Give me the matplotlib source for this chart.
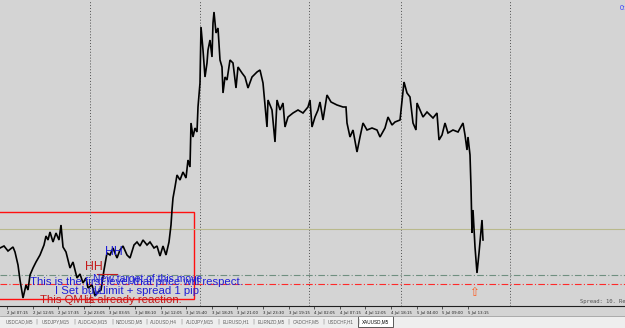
import matplotlib
matplotlib.use('Agg')
import matplotlib.pyplot as plt
from matplotlib.patches import Rectangle

# XAUUSD,M5 close path (bar index, price)
bars = [0, 4, 8, 13, 15, 18, 20, 23, 26, 28, 30, 33, 36, 40, 44, 46, 48, 50, 53, 56,
        59, 61, 63, 66, 70, 73, 77, 80, 83, 86, 88, 92, 95, 98, 101, 104, 107, 110, 113, 117,
        120, 123, 127, 130, 134, 137, 140, 143, 147, 150, 154, 157, 160, 163, 166, 169, 171, 172, 173, 175,
        177, 180, 183, 186, 188, 190, 191, 193, 195, 197, 198, 200, 201, 203, 205, 207, 208, 210, 212, 213,
        214, 216, 218, 220, 222, 223, 225, 227, 230, 233, 236, 238, 242, 245, 248, 252, 257, 260, 263, 267,
        268, 272, 275, 277, 280, 283, 285, 288, 293, 298, 303, 308, 310, 312, 315, 318, 320, 323, 327, 331,
        333, 337, 343, 346, 347, 350, 353, 357, 360, 363, 367, 372, 377, 380, 385, 388, 392, 395, 400, 404,
        407, 410, 413, 416, 417, 420, 423, 427, 430, 433, 437, 439, 442, 445, 448, 453, 458, 463, 465, 467,
        468, 470, 471, 472, 473, 475, 477, 479, 482, 483]
prices = [1242.60, 1242.70, 1242.45, 1242.65, 1242.40, 1241.75, 1241.00, 1240.10, 1240.75, 1240.50,
          1241.25, 1241.60, 1241.90, 1242.25, 1242.75, 1243.20, 1243.00, 1243.40, 1242.90, 1243.35,
          1243.00, 1243.75, 1242.65, 1242.40, 1241.60, 1241.90, 1241.10, 1241.30, 1240.85, 1241.10,
          1240.60, 1240.75, 1240.20, 1240.40, 1240.50, 1241.50, 1242.35, 1242.25, 1242.60, 1242.10,
          1242.50, 1242.70, 1242.25, 1242.10, 1242.75, 1242.90, 1242.70, 1243.00, 1242.75, 1242.90,
          1242.60, 1242.70, 1242.20, 1242.70, 1242.25, 1242.90, 1243.75, 1244.50, 1245.10, 1245.65,
          1246.25, 1246.00, 1246.40, 1246.10, 1247.00, 1246.65, 1248.85, 1248.15, 1248.60, 1248.40,
          1249.65, 1250.85, 1253.65, 1252.50, 1251.15, 1251.85, 1252.50, 1253.00, 1252.15, 1253.85,
          1254.40, 1253.35, 1253.60, 1252.00, 1251.65, 1250.35, 1251.15, 1251.00, 1252.00, 1251.85,
          1250.60, 1251.65, 1251.35, 1251.15, 1250.60, 1251.15, 1251.40, 1251.50, 1250.85, 1248.65,
          1250.00, 1249.50, 1247.90, 1250.00, 1249.50, 1249.85, 1248.65, 1249.15, 1249.35, 1249.50,
          1249.35, 1249.65, 1250.00, 1248.65, 1249.15, 1249.50, 1249.90, 1249.00, 1250.25, 1249.90,
          1249.85, 1249.75, 1249.65, 1249.65, 1248.85, 1248.15, 1248.50, 1247.40, 1248.15, 1248.85,
          1248.50, 1248.60, 1248.50, 1248.15, 1248.60, 1249.15, 1248.75, 1248.90, 1249.00, 1250.90,
          1250.35, 1250.15, 1248.85, 1248.50, 1249.85, 1249.50, 1249.15, 1249.40, 1249.25, 1249.10,
          1249.35, 1248.00, 1248.25, 1248.85, 1248.35, 1248.50, 1248.40, 1248.85, 1248.25, 1247.50,
          1248.15, 1247.25, 1245.65, 1243.35, 1244.50, 1242.65, 1241.35, 1242.35, 1244.00, 1243.00]

separators = [90, 200, 309, 401, 510]
olive_level = 1243.55
grey_level = 1241.25
red_level = 1240.80
box_left, box_right = -2, 194
box_low, box_high = 1240.05, 1244.40

tick_bars = [7, 33, 58, 84, 109, 135, 161, 186, 212, 237, 263, 289, 314, 340, 365, 391, 417, 442, 468]
tick_labels = ['2 Jul 07:15', '2 Jul 12:55', '2 Jul 17:35', '2 Jul 23:05', '3 Jul 03:55',
               '3 Jul 08:10', '3 Jul 12:05', '3 Jul 15:40', '3 Jul 18:25', '3 Jul 21:00',
               '3 Jul 23:30', '3 Jul 19:15', '4 Jul 02:05', '4 Jul 07:15', '4 Jul 12:05',
               '4 Jul 18:15', '5 Jul 04:00', '5 Jul 09:00', '5 Jul 13:15']
tabs = ['USDCAD,M5', 'USDJPY,M15', 'AUDCAD,M15', 'NZDUSD,M5', 'AUDUSD,H4', 'AUDJPY,M15',
        'EURUSD,H1', 'EURNZD,M5', 'CADCHF,M5', 'USDCHF,H1']
active_tab = 'XAUUSD,M5'

BG = '#d4d4d4'
BLUE = '#1f1fd6'
DRED = '#c41a1a'
FONT = 'Liberation Sans'

fig = plt.figure(figsize=(6.25, 3.28), dpi=100)
fig.patch.set_facecolor(BG)
ax = fig.add_axes([0, 22 / 328, 1, 306 / 328])
ax.set_facecolor(BG)
ax.set_xlim(0, 625)
ax.set_ylim(1239.70, 1255.00)
for s in ['top', 'left', 'right']:
    ax.spines[s].set_visible(False)
ax.spines['bottom'].set_color('#202020')
ax.spines['bottom'].set_linewidth(0.8)
ax.set_yticks([])
ax.set_xticks(tick_bars)
ax.set_xticklabels(tick_labels, fontsize=2.8, color='#202020', ha='left')
ax.tick_params(axis='x', length=2, width=0.5, pad=1.5, color='#202020')

for b in separators:
    ax.axvline(b, color='#505050', lw=0.7, ls=(0, (1, 2)))
ax.axhline(olive_level, color='#b9b98c', lw=0.8)
ax.axhline(grey_level, color='#6f8f80', lw=0.8, ls=(0, (6, 2, 1, 2)))
ax.axhline(red_level, color='#ff2a2a', lw=0.8, ls=(0, (6, 2, 1, 2)))

ax.plot(bars, prices, color='black', lw=1.2, solid_joinstyle='miter')

ax.add_patch(Rectangle((box_left, box_low), box_right - box_left, box_high - box_low,
                       fill=False, edgecolor='#ff1010', lw=1.0))
ax.plot([97, 117], [1241.30, 1241.30], color=DRED, lw=0.8)

ax.text(105, 1242.40, 'HH', color=BLUE, fontsize=8.8, family=FONT, va='center')
ax.text(85, 1241.65, 'HH', color=DRED, fontsize=8.8, family=FONT, va='center')
ax.text(93, 1241.05, 'New target of this move', color=BLUE, fontsize=7.5, family=FONT, va='center')
ax.text(30, 1240.90, 'This is the first level that price will respect.', color=BLUE,
        fontsize=8.2, family=FONT, va='center')
ax.text(55, 1240.45, 'I Set buy limit + spread 1 pip', color=BLUE, fontsize=8.2,
        family=FONT, va='center')
ax.text(93, 1240.45, 'LL', color=BLUE, fontsize=7.5, family=FONT, va='center')
ax.text(40, 1240.02, 'This QM is already reaction.', color=DRED, fontsize=8.2,
        family=FONT, va='center')
ax.text(83, 1240.02, 'LL', color=DRED, fontsize=8.2, family=FONT, va='center')
ax.text(474, 1240.35, '\u21e7', color='#ff5a1e', fontsize=8.5, ha='center', va='center',
        family='DejaVu Sans')
ax.text(580, 1239.80, 'Spread: 10. Remaining', color='#505050', fontsize=4,
        family='DejaVu Sans Mono', va='bottom')
ax.text(620, 1254.60, '0:00', color='#3c3cff', fontsize=5, family=FONT, va='center')

# tab strip
tab_ax = fig.add_axes([0, 0, 1, 12 / 328])
tab_ax.set_xlim(0, 625)
tab_ax.set_ylim(0, 1)
tab_ax.set_facecolor('#eeeeee')
tab_ax.set_xticks([])
tab_ax.set_yticks([])
for s in ['left', 'right', 'bottom']:
    tab_ax.spines[s].set_visible(False)
tab_ax.spines['top'].set_color('#a0a0a0')
tab_ax.spines['top'].set_linewidth(0.6)
x = 2
for name in tabs:
    w = len(name) * 2.75 + 10
    tab_ax.text(x + w / 2, 0.55, name, fontsize=3.3, color='#606060', family=FONT,
                ha='center', va='center')
    tab_ax.text(x + w, 0.55, '|', fontsize=4, color='#808080', ha='center', va='center')
    x += w
w = len(active_tab) * 2.75 + 10
tab_ax.add_patch(Rectangle((x, 0.05), w, 0.95, facecolor='white', edgecolor='#404040', lw=0.6))
tab_ax.text(x + w / 2, 0.55, active_tab, fontsize=3.3, color='black', family=FONT,
            ha='center', va='center')

fig.savefig('out.png', dpi=100, facecolor=fig.get_facecolor())
